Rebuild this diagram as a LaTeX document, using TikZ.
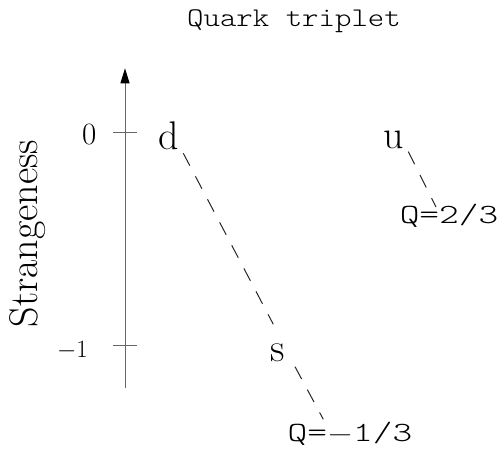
\documentclass[tikz,border=0pt]{standalone}
\usepackage{fontspec}
\newfontfamily\qkmonofont{lmmonolt10-regular.otf}
\usetikzlibrary{arrows.meta}
\newcommand\qkmono[3]{\scalebox{#1}[1]{\fontsize{#2}{#2}\qkmonofont #3}}
\tikzset{
  lbl/.style={inner sep=0pt, anchor=base},
  axisline/.style={draw=black!60, line width=1pt},
  dashln/.style={draw=black!85, line width=1pt, dash pattern=on 14pt off 12pt},
}
\begin{document}
\begin{tikzpicture}[x=1pt,y=-1pt]
\useasboundingbox (0,0) rectangle (502,452);
% title and axis label
\node[lbl] (title) at (294,27) {\qkmono{1.16}{27}{Quark triplet}};
\node[lbl,rotate=90] (ylab) at (37,233.5) {\fontsize{40}{40}\selectfont Strangeness};
% axis
\coordinate (axbot) at (125,388);
\coordinate (axtop) at (125,68.3);
\draw[axisline,-{Triangle[length=15pt,width=9pt,color=black]}] (axbot) -- (axtop);
\coordinate (t0l) at (113,132.7);
\coordinate (t0r) at (136.7,132.7);
\coordinate (t1l) at (113,345.7);
\coordinate (t1r) at (136.7,345.7);
\draw[axisline] (t0l) -- (t0r);
\draw[axisline] (t1l) -- (t1r);
\node[lbl] (l0) at (89.2,144.3) {\fontsize{31}{32}\selectfont 0};
\node[lbl] (lm1) at (72.4,357.7) {\fontsize{31}{32}\selectfont $-1$};
% quarks
\node[lbl] (d) at (168.5,149) {\fontsize{40}{42}\selectfont d};
\node[lbl] (u) at (393.5,148) {\fontsize{40}{42}\selectfont u};
\node[lbl] (s) at (277.5,361.7) {\fontsize{40}{42}\selectfont s};
\node[lbl] (qu) at (449,223.3) {\qkmono{1.35}{27.8}{Q=2/3}};
\node[lbl] (qs) at (350,441.7) {\qkmono{1.35}{27.8}{Q=$-$1/3}};
% dashed charge lines
\coordinate (d1) at (183.3,153.3);
\coordinate (s1) at (273.3,324.3);
\coordinate (s2) at (295,366.7);
\coordinate (q1) at (323.3,419.3);
\coordinate (u1) at (408.3,151.7);
\coordinate (u2) at (436,207);
\draw[dashln] (d1) -- (s1);
\draw[dashln] (s2) -- (q1);
\draw[dashln] (u1) -- (u2);
\end{tikzpicture}
\end{document}
